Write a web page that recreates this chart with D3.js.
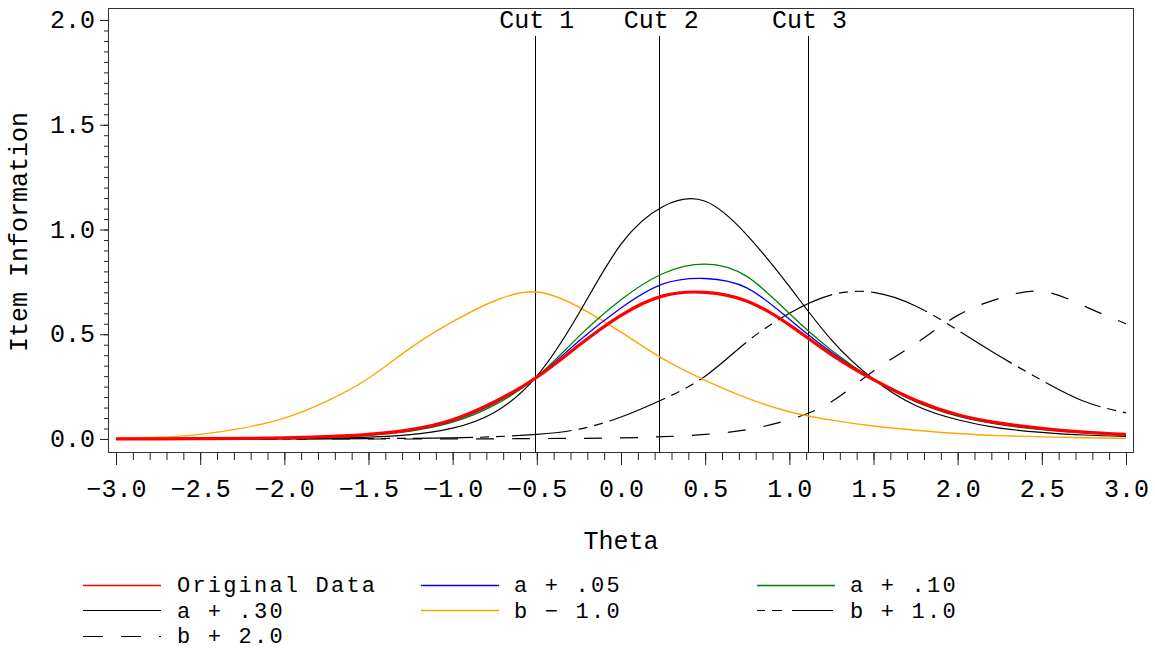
<!DOCTYPE html>
<html>
<head>
<meta charset="utf-8">
<script src="https://cdn.jsdelivr.net/npm/d3@7"></script>
<style>
  html, body { margin: 0; padding: 0; background: #fff; }
  svg { display: block; }
  text { font-family: "Liberation Mono", "Courier New", monospace; fill: #000; }
</style>
</head>
<body>
<svg id="chart" width="1155" height="650"></svg>
<script>
// Ability grid (theta) shared by every information curve
const theta = [-3.0, -2.75, -2.5, -2.25, -2.0, -1.75, -1.5, -1.25, -1.0, -0.75, -0.5, -0.25,
               0.0, 0.25, 0.5, 0.75, 1.0, 1.25, 1.5, 1.75, 2.0, 2.25, 2.5, 2.75, 3.0];

// Item information under each parameter setting
const originalData = [0.001, 0.001, 0.002, 0.003, 0.005, 0.011, 0.022, 0.045, 0.092, 0.178, 0.295, 0.447,
                      0.590, 0.683, 0.700, 0.658, 0.545, 0.403, 0.283, 0.185, 0.116, 0.076, 0.051, 0.033, 0.022];
const aPlus05 = [0.001, 0.001, 0.002, 0.003, 0.004, 0.010, 0.020, 0.041, 0.086, 0.171, 0.296, 0.468,
                 0.625, 0.740, 0.766, 0.720, 0.572, 0.414, 0.283, 0.181, 0.112, 0.072, 0.048, 0.031, 0.020];
const aPlus10 = [0.001, 0.001, 0.001, 0.002, 0.004, 0.009, 0.018, 0.038, 0.080, 0.163, 0.297, 0.490,
                 0.665, 0.790, 0.835, 0.775, 0.599, 0.424, 0.284, 0.178, 0.109, 0.069, 0.045, 0.029, 0.018];
const aPlus30 = [0.000, 0.000, 0.000, 0.001, 0.001, 0.003, 0.009, 0.021, 0.052, 0.128, 0.300, 0.600,
                 0.930, 1.110, 1.135, 0.972, 0.728, 0.473, 0.285, 0.160, 0.092, 0.052, 0.032, 0.019, 0.012];
const bMinus10 = [0.004, 0.008, 0.022, 0.052, 0.100, 0.180, 0.290, 0.435, 0.560, 0.660, 0.702, 0.630,
                  0.510, 0.382, 0.280, 0.195, 0.130, 0.090, 0.062, 0.042, 0.026, 0.016, 0.010, 0.006, 0.003];
const bPlus10 = [0.000, 0.000, 0.000, 0.001, 0.001, 0.001, 0.002, 0.003, 0.005, 0.011, 0.022, 0.047,
                 0.105, 0.190, 0.300, 0.465, 0.600, 0.688, 0.700, 0.635, 0.520, 0.395, 0.280, 0.180, 0.125];
const bPlus20 = [0.000, 0.000, 0.000, 0.000, 0.000, 0.000, 0.000, 0.000, 0.001, 0.001, 0.002, 0.003,
                 0.005, 0.011, 0.022, 0.045, 0.092, 0.178, 0.325, 0.455, 0.590, 0.672, 0.705, 0.635, 0.550];

// Category cut points on the theta scale
const cutNames = ["Cut 1", "Cut 2", "Cut 3"];
const cutValues = [-0.512, 0.228, 1.108];

// Axis tick values
const xMajorTicks = [-3.0, -2.5, -2.0, -1.5, -1.0, -0.5, 0.0, 0.5, 1.0, 1.5, 2.0, 2.5, 3.0];
const yMajorTicks = [0.0, 0.5, 1.0, 1.5, 2.0];

const seriesNames = ["Original Data", "a + .05", "a + .10", "a + .30", "b \u2212 1.0", "b + 1.0", "b + 2.0"];
const seriesValues = [originalData, aPlus05, aPlus10, aPlus30, bMinus10, bPlus10, bPlus20];

// Drawing styles, one per series
const styles = [
  { color: "#ff0000", width: 3.2, dash: null, legendDash: null, legendWidth: 1.5 },
  { color: "#0000ff", width: 1.3, dash: null, legendDash: null, legendWidth: 1.3 },
  { color: "#008000", width: 1.3, dash: null, legendDash: null, legendWidth: 1.3 },
  { color: "#000000", width: 1.2, dash: null, legendDash: null, legendWidth: 1.2 },
  { color: "#ffa500", width: 1.4, dash: null, legendDash: null, legendWidth: 1.4 },
  { color: "#000000", width: 1.2, dash: "60,7,9,7,9,7", legendDash: "8,7,10,10,41", legendWidth: 1.2 },
  { color: "#000000", width: 1.2, dash: "18,18", legendDash: "20,18", legendWidth: 1.2 }
];

const svg = d3.select("#chart");
svg.append("rect").attr("width", 1155).attr("height", 650).attr("fill", "#fff");

const x = d3.scaleLinear().domain([-3, 3]).range([116, 1126]);
const y = d3.scaleLinear().domain([0, 2]).range([439, 20]);

const frame = { left: 108, top: 8, right: 1133, bottom: 452 };
const fmt = d3.format(".1f");

// Plot frame
svg.append("rect")
  .attr("x", frame.left + 0.5).attr("y", frame.top + 0.5)
  .attr("width", frame.right - frame.left).attr("height", frame.bottom - frame.top)
  .attr("fill", "none").attr("stroke", "#333").attr("stroke-width", 1);

// X axis: minor ticks every 0.1, major ticks every 0.5
const xMinor = d3.range(-30, 31).map(i => i / 10);
const gxMinor = svg.append("g").attr("transform", `translate(0,${frame.bottom + 1})`)
  .call(d3.axisBottom(x).tickValues(xMinor).tickSize(7).tickFormat(""));
const gx = svg.append("g").attr("transform", `translate(0,${frame.bottom + 1})`)
  .call(d3.axisBottom(x).tickValues(xMajorTicks).tickSize(12).tickFormat(fmt));
[gxMinor, gx].forEach(g => {
  g.select(".domain").remove();
  g.selectAll(".tick line").attr("stroke", "#222").attr("stroke-width", 1);
});
gx.selectAll(".tick text")
  .attr("y", 44).attr("dy", 0)
  .attr("font-size", 25)
  .attr("font-family", "Liberation Mono, monospace");

// Y axis: minor ticks every 0.05, major ticks every 0.5
const yMinor = d3.range(0, 41).map(i => i / 20);
const gyMinor = svg.append("g").attr("transform", `translate(${frame.left},0)`)
  .call(d3.axisLeft(y).tickValues(yMinor).tickSize(4).tickFormat(""));
const gy = svg.append("g").attr("transform", `translate(${frame.left},0)`)
  .call(d3.axisLeft(y).tickValues(yMajorTicks).tickSize(8).tickFormat(fmt));
[gyMinor, gy].forEach(g => {
  g.select(".domain").remove();
  g.selectAll(".tick line").attr("stroke", "#222").attr("stroke-width", 1);
});
gy.selectAll(".tick text")
  .attr("x", -13).attr("dy", "0.3em")
  .attr("font-size", 25)
  .attr("font-family", "Liberation Mono, monospace");

// Axis titles
svg.append("text")
  .attr("x", 621).attr("y", 549)
  .attr("text-anchor", "middle").attr("font-size", 25)
  .text("Theta");
svg.append("text")
  .attr("transform", "translate(27,232) rotate(-90)")
  .attr("text-anchor", "middle").attr("font-size", 25)
  .text("Item Information");

// Cut point reference lines with labels
const cuts = cutNames.map((name, i) => ({ name, value: cutValues[i] }));
svg.selectAll(".cut-line").data(cuts).enter().append("line")
  .attr("class", "cut-line")
  .attr("x1", d => Math.round(x(d.value)) + 0.5).attr("x2", d => Math.round(x(d.value)) + 0.5)
  .attr("y1", 36).attr("y2", frame.bottom)
  .attr("stroke", "#000").attr("stroke-width", 1);
svg.selectAll(".cut-label").data(cuts).enter().append("text")
  .attr("class", "cut-label")
  .attr("x", d => x(d.value) + 2).attr("y", 28)
  .attr("text-anchor", "middle").attr("font-size", 25)
  .text(d => d.name);

// Information curves
const line = d3.line()
  .x(d => x(d.t))
  .y(d => y(d.v))
  .curve(d3.curveNatural);

const drawOrder = [5, 6, 4, 3, 2, 1, 0];
const plot = svg.append("g");
drawOrder.forEach(i => {
  const pts = theta.map((t, k) => ({ t, v: seriesValues[i][k] }));
  const s = styles[i];
  plot.append("path")
    .datum(pts)
    .attr("d", line)
    .attr("fill", "none")
    .attr("stroke", s.color)
    .attr("stroke-width", s.width)
    .attr("stroke-linejoin", "round")
    .attr("stroke-dasharray", s.dash);
});

// Legend: three columns, three rows
const legendCols = [{ lx: 83, tx: 177 }, { lx: 421, tx: 514 }, { lx: 757, tx: 850 }];
const legendRows = [585, 610, 636];
const legendBase = [592, 618, 643];
const legend = svg.append("g");
seriesNames.forEach((name, i) => {
  const col = legendCols[i % 3];
  const row = Math.floor(i / 3);
  const s = styles[i];
  legend.append("line")
    .attr("x1", col.lx).attr("x2", col.lx + 78)
    .attr("y1", legendRows[row] + 0.5).attr("y2", legendRows[row] + 0.5)
    .attr("stroke", s.color)
    .attr("stroke-width", s.legendWidth)
    .attr("stroke-dasharray", s.legendDash);
  legend.append("text")
    .attr("x", col.tx).attr("y", legendBase[row])
    .attr("font-size", 22)
    .attr("letter-spacing", 2.2)
    .text(name);
});
</script>
</body>
</html>
